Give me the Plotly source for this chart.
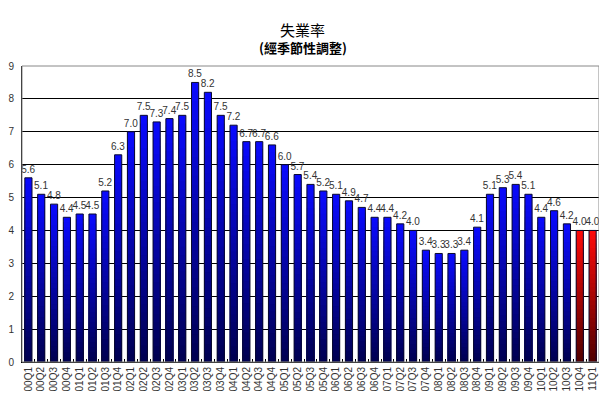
import plotly.graph_objects as go

quarters = [f"{y:02d}Q{q}" for y in range(0, 11) for q in range(1, 5)] + ["11Q1"]
rates = [5.6, 5.1, 4.8, 4.4, 4.5, 4.5, 5.2, 6.3,
         7.0, 7.5, 7.3, 7.4, 7.5, 8.5, 8.2, 7.5,
         7.2, 6.7, 6.7, 6.6, 6.0, 5.7, 5.4, 5.2,
         5.1, 4.9, 4.7, 4.4, 4.4, 4.2, 4.0, 3.4,
         3.3, 3.3, 3.4, 4.1, 5.1, 5.3, 5.4, 5.1,
         4.4, 4.6, 4.2, 4.0, 4.0]
highlight = [False] * 43 + [True, True]

title_main = "失業率"
title_sub = "(經季節性調整)"

blue_top, blue_bot = (10, 10, 255), (0, 0, 80)
red_top, red_bot = (255, 10, 10), (80, 0, 0)


def mix(top, bot, f):
    return "rgb({},{},{})".format(*[round(b + (t - b) * f) for t, b in zip(top, bot)])


N = 30
BW = 0.56
fig = go.Figure()
for k in range(N):
    frac_height = (N - k) / N
    f = (N - k - 0.5) / N
    colors = [mix(red_top, red_bot, f) if h else mix(blue_top, blue_bot, f) for h in highlight]
    fig.add_bar(x=quarters, y=[v * frac_height for v in rates], width=BW,
                marker=dict(color=colors, line=dict(width=0)),
                hoverinfo="skip", showlegend=False)

fig.add_bar(x=quarters, y=rates, width=BW,
            marker=dict(color="rgba(0,0,0,0)", line=dict(color="#0a0a30", width=1)),
            text=[f"{v:.1f}" for v in rates], textposition="outside",
            textangle=0, constraintext="none", cliponaxis=False,
            textfont=dict(family="Liberation Sans, Arial", size=10, color="#333333"),
            showlegend=False)

fig.update_layout(
    width=599, height=387,
    margin=dict(l=14, r=8, t=58, b=33, autoexpand=False),
    barmode="overlay",
    plot_bgcolor="white", paper_bgcolor="white",
    font=dict(family="Liberation Sans, Arial", color="#333333"),
    annotations=[
        dict(text=title_main, x=0.487, y=1, xref="paper", yref="paper", yshift=37,
             xanchor="center", yanchor="middle",
             showarrow=False, font=dict(family="Noto Sans CJK TC", size=15, color="black")),
        dict(text="<b>" + title_sub + "</b>", x=0.487, y=1, xref="paper", yref="paper", yshift=19,
             xanchor="center", yanchor="middle",
             showarrow=False, font=dict(family="Noto Sans CJK TC", size=13, color="black")),
    ],
    shapes=[dict(type="rect", xref="paper", yref="paper", x0=0, x1=1, y0=0, y1=1,
                 line=dict(color="#888888", width=1), layer="above")],
)
fig.update_xaxes(type="category", tickangle=-90, tickfont=dict(size=10, color="#333333"),
                 showline=True, linecolor="black", linewidth=1,
                 ticks="inside", ticklen=3, tickcolor="black", tickson="boundaries",
                 showgrid=False, automargin=False)
fig.update_yaxes(range=[0, 9], dtick=1, showgrid=True, gridcolor="black", gridwidth=1,
                 showline=True, linecolor="black", linewidth=1, zeroline=False,
                 tickfont=dict(size=10, color="#333333"), ticks="", ticklabelstandoff=5,
                 automargin=False)

fig.write_html("out.html")
